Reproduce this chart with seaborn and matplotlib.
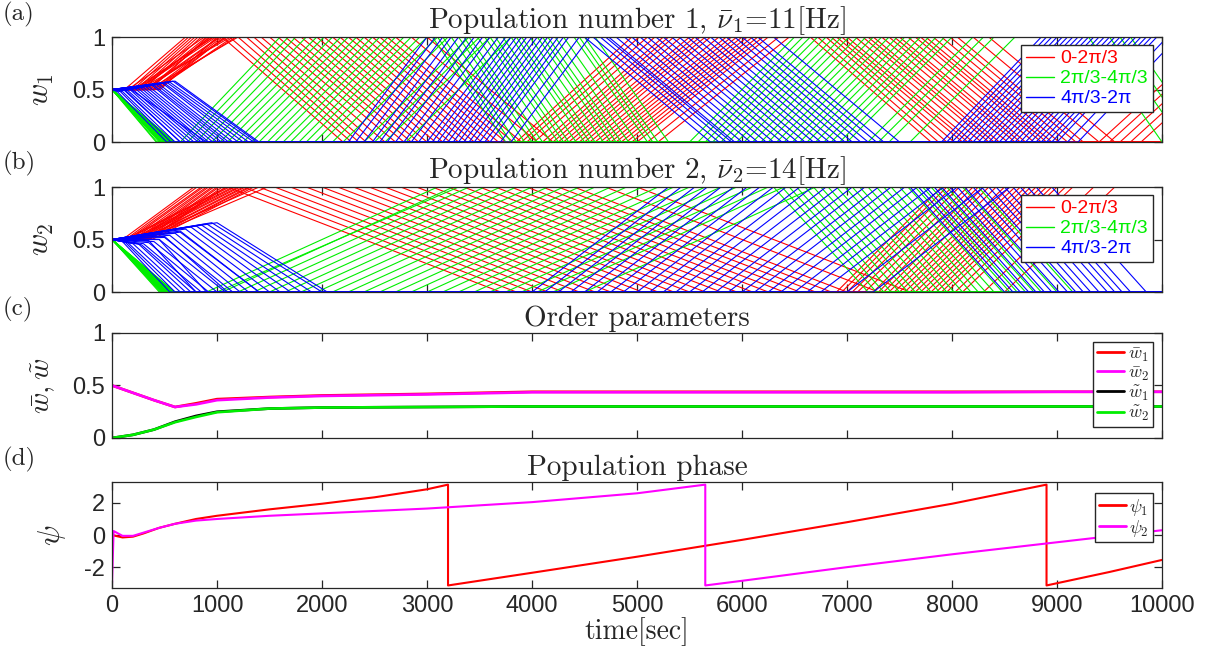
import numpy as np
import pandas as pd
import matplotlib
matplotlib.use("Agg")
import matplotlib.pyplot as plt
from matplotlib.lines import Line2D
import seaborn as sns

# ---------------- data ----------------
# Each synapse trajectory: [first_vertex, t_hit_b, t_leave_b, t_hit_other, t_leave_other, ...]
# first_vertex is either a time (weight still 0.5) or a (time, weight) pair;
# first bound b given per group (1 = up first, 0 = down first); weights start at 0.5.
red_a = [
    [120, 700, 1050, 2200, 3850, 4950, 6650, 7800],
    [170, 730, 1120, 2280, 3900, 5020, 6720, 7870],
    [200, 760, 1200, 2350, 3950, 5100, 6800, 7950, 9500, 10600],
    [230, 790, 1280, 2420, 4020, 5170, 6850, 8020],
    [260, 820, 1350, 2500, 4100, 5250, 6900, 8100],
    [290, 850, 1420, 2600, 4150, 5300, 6950, 8150, 9600, 10700],
    [150, 880, 1500, 2700, 4200, 5350, 7000, 8200],
    [360, 910, 1580, 2780, 4250, 5420, 7080, 8280],
    [330, 930, 1650, 2850, 4300, 5500, 7150, 8350],
    [200, 970, 1720, 2920, 4350, 5550, 7200, 8400],
    [240, 990, 1800, 3000, 4400, 5600, 7250, 8450, 9800, 10900],
    [310, 1020, 1870, 3080, 4450, 5650, 7330, 8530],
    [380, 1050, 1950, 3150, 4500, 5700, 7400, 8600],
    [440, 1070, 2020, 3220, 4550, 5780, 7450, 8650],
    [300, 1100, 2100, 3300, 4600, 5850, 7500, 8700],
    [260, 1130, 2170, 3380, 4650, 5900, 7580, 8780],
    [420, 1150, 2250, 3450, 4700, 5950, 7650, 8850, 9400, 10500],
    [390, 1180, 2320, 3520, 4750, 6000, 7700, 8900, 9700, 10800],
    [350, 1200, 2400, 3600, 4800, 6050, 7750, 8950],
    [330, 1030, 2480, 3680, 4850, 6100, 7820, 9020],
    [460, 1000, 2550, 3750, 4900, 6150, 7900, 9100],
    [250, 940, 2620, 3820, 4950, 6200, 7980, 9180],
    [280, 900, 2700, 3900, 5000, 6250, 8050, 9250],
    [400, 1080, 2850, 4050, 5100, 6350, 8200, 9400],
    [220, 960, 3000, 4200, 5200, 6450, 8350, 9550],
]
green_a = [
    [0, 420, 650, 1600, 3050, 3750, 5500, 6500, 9300, 10000],
    [0, 430, 720, 1680, 3100, 3800, 5580, 6580],
    [0, 450, 800, 1750, 3150, 3850, 5650, 6650],
    [0, 460, 880, 1850, 3230, 3930, 5720, 6720],
    [0, 470, 950, 1950, 3300, 4000, 5800, 6800, 9600, 10300],
    [0, 490, 1030, 2020, 3350, 4050, 5870, 6880],
    [0, 500, 1100, 2100, 3400, 4100, 5950, 6950],
    [0, 510, 1180, 2180, 3480, 4180, 6020, 7020, 9500, 10200],
    [0, 520, 1250, 2250, 3550, 4250, 6100, 7100],
    [0, 530, 1330, 2330, 3600, 4300, 6180, 7180],
    [0, 540, 1400, 2400, 3650, 4350, 6250, 7250],
    [0, 550, 1480, 2480, 3720, 4420, 6330, 7330],
    [0, 560, 1550, 2550, 3800, 4500, 6400, 7400],
    [0, 570, 1630, 2630, 3850, 4550, 6480, 7480],
    [0, 580, 1700, 2700, 3900, 4600, 6550, 7550],
    [0, 590, 1780, 2780, 3980, 4680, 6620, 7620],
    [0, 600, 1850, 2850, 4050, 4750, 6700, 7700],
    [0, 470, 1930, 2930, 4100, 4800, 6780, 7780],
    [0, 480, 2000, 3000, 4150, 4850, 6850, 7850],
    [0, 500, 2100, 3100, 4220, 4920, 6930, 7930, 9700, 10400],
    [0, 510, 2200, 3200, 4300, 5000, 7000, 8000],
    [0, 550, 2400, 3400, 4400, 5100, 7200, 8200],
    [0, 540, 2500, 3500, 4450, 5150, 7300, 8300],
    [0, 530, 2600, 3600, 4500, 5200, 7400, 8400],
    [0, 570, 2800, 3800, 4600, 5300, 7600, 8600],
]
blue_a = [
    [(50, 0.48), 520, 2250, 3000, 4500, 5700, 7900, 8850],
    [(80, 0.48), 560, 2320, 3080, 4580, 5780, 7950, 8900],
    [(100, 0.48), 600, 2400, 3150, 4650, 5850, 8000, 8950],
    [(130, 0.49), 650, 2480, 3230, 4730, 5930, 8050, 9000],
    [(150, 0.49), 700, 2550, 3300, 4800, 6000, 8100, 9050],
    [(170, 0.50), 740, 2620, 3380, 4880, 6080, 8150, 9100],
    [(200, 0.50), 780, 2700, 3450, 4950, 6150, 8200, 9150],
    [(220, 0.51), 820, 2780, 3530, 5030, 6230, 8250, 9200],
    [(250, 0.51), 850, 2850, 3600, 5100, 6300, 8300, 9250],
    [(270, 0.52), 880, 2920, 3680, 5180, 6380, 8350, 9300],
    [(300, 0.52), 920, 3000, 3750, 5250, 6450, 8400, 9350],
    [(320, 0.53), 960, 3050, 3800, 5330, 6530, 8450, 9400],
    [(350, 0.53), 1000, 3100, 3850, 5400, 6600, 8500, 9450],
    [(380, 0.54), 1040, 3150, 3900, 5480, 6680, 8550, 9500],
    [(400, 0.54), 1080, 3200, 3950, 5550, 6750, 8600, 9550],
    [(420, 0.55), 1110, 3250, 4000, 5630, 6830, 8650, 9600],
    [(450, 0.55), 1150, 3300, 4050, 5700, 6900, 8700, 9650],
    [(480, 0.56), 1200, 3350, 4100, 5780, 6980, 8750, 9700],
    [(500, 0.56), 1250, 3400, 4150, 5850, 7050, 8800, 9750],
    [(520, 0.57), 1300, 3450, 4200, 5930, 7130, 8850, 9800],
    [(550, 0.57), 1350, 3500, 4250, 6000, 7200, 8900, 9850],
    [(580, 0.58), 1380, 3550, 4300, 6080, 7280, 8950, 9900],
    [(600, 0.58), 1400, 3600, 4350, 6150, 7350, 9000, 9950],
    [(120, 0.49), 650, 3700, 4450, 6300, 7500, 9100, 10050],
    [(180, 0.50), 900, 3800, 4550, 4700, 5900, 9200, 10150],
]
red_b = [
    [100, 780, 1100, 3700, 6900, 7900],
    [130, 810, 1250, 3850, 6950, 7950],
    [150, 850, 1400, 4000, 7000, 8000],
    [170, 870, 1550, 4150, 7050, 8070],
    [200, 900, 1700, 4300, 7100, 8150],
    [230, 920, 1850, 4450, 7170, 8200],
    [250, 950, 2000, 4600, 7250, 8250],
    [270, 970, 2150, 4750, 7300, 8300],
    [300, 1000, 2300, 4900, 7350, 8350],
    [320, 1020, 2450, 5050, 7400, 8420],
    [350, 1050, 2600, 5200, 7450, 8500],
    [360, 1080, 2750, 5350, 7500, 8550],
    [120, 1100, 2900, 5500, 7550, 8600],
    [140, 1120, 3050, 5650, 7600, 8650],
    [180, 1150, 3200, 5800, 7650, 8700],
    [200, 1170, 3350, 5950, 7700, 8750],
    [220, 1200, 3500, 6100, 7750, 8800],
    [240, 1220, 3650, 6250, 7800, 8850],
    [280, 1250, 3800, 6400, 7850, 8900],
    [290, 1270, 3950, 6550, 7900, 8950],
    [330, 1300, 4100, 6700, 7950, 9000],
    [340, 1320, 4250, 6850, 8030, 9080],
    [380, 1350, 4400, 7000, 8100, 9150],
    [260, 1400, 4700, 7300, 8300, 9350],
    [310, 1480, 5000, 7600, 8500, 9550],
]
green_b = [
    [0, 450, 900, 3100, 6300, 7200],
    [0, 460, 1050, 3250, 6380, 7280],
    [0, 480, 1200, 3400, 6450, 7350],
    [0, 490, 1350, 3550, 6520, 7420],
    [0, 500, 1500, 3700, 6600, 7500],
    [0, 510, 1650, 3850, 6680, 7580],
    [0, 520, 1800, 4000, 6750, 7650],
    [0, 530, 1950, 4150, 6820, 7720],
    [0, 540, 2100, 4300, 6900, 7800],
    [0, 550, 2250, 4450, 6980, 7880],
    [0, 560, 2400, 4600, 7050, 7950],
    [0, 570, 2550, 4750, 7120, 8020],
    [0, 580, 2700, 4900, 7200, 8100],
    [0, 590, 2850, 5050, 7280, 8180],
    [0, 600, 3000, 5200, 7350, 8250],
    [0, 480, 3150, 5350, 7420, 8320],
    [0, 470, 3300, 5500, 7500, 8400],
    [0, 500, 3450, 5650, 7580, 8480],
    [0, 490, 3600, 5800, 7650, 8550],
    [0, 520, 3750, 5950, 7720, 8620],
    [0, 510, 3900, 6100, 7800, 8700],
    [0, 540, 4050, 6250, 7880, 8780],
    [0, 530, 4200, 6400, 7950, 8850],
    [0, 550, 4500, 6700, 8100, 9000],
    [0, 570, 1000, 3300, 8250, 9150],
]
blue_b = [
    [(100, 0.48), 550, 4000, 5300, 7600, 8500],
    [(120, 0.48), 600, 4120, 5420, 7680, 8580],
    [(150, 0.47), 650, 4250, 5550, 7750, 8650],
    [(200, 0.46), 700, 4370, 5670, 7830, 8730],
    [(250, 0.46), 750, 4500, 5800, 7900, 8800],
    [(280, 0.45), 800, 4620, 5920, 7980, 8880],
    [(300, 0.46), 850, 4750, 6050, 8050, 8950],
    [(350, 0.47), 920, 4870, 6170, 8120, 9020],
    [(400, 0.48), 1000, 5000, 6300, 8200, 9100],
    [(450, 0.50), 1080, 5120, 6420, 8280, 9180],
    [(500, 0.52), 1150, 5250, 6550, 8350, 9250],
    [(550, 0.54), 1220, 5370, 6670, 8420, 9320],
    [(600, 0.56), 1300, 5500, 6800, 8500, 9400],
    [(650, 0.58), 1400, 5620, 6920, 8580, 9480],
    [(700, 0.60), 1500, 5750, 7050, 8650, 9550],
    [(750, 0.62), 1600, 5870, 7170, 8720, 9620],
    [(800, 0.63), 1700, 6000, 7300, 8800, 9700],
    [(850, 0.64), 1800, 6120, 7420],
    [(900, 0.65), 1900, 6250, 7550, 8950, 9850],
    [(950, 0.66), 2000, 6370, 7670],
    [(1000, 0.66), 2050, 6500, 7800],
    [(500, 0.53), 1100, 6620, 7920],
    [(650, 0.57), 1400, 6750, 8050],
    [(450, 0.50), 900, 7000, 8300],
    [(350, 0.49), 800, 7250, 8550],
]

group_labels = ["0-2\u03c0/3", "2\u03c0/3-4\u03c0/3", "4\u03c0/3-2\u03c0"]
group_colors = ["#ff0000", "#00ee00", "#0000ff"]

# order parameters (panel c)
t_ord = [0, 200, 400, 600, 800, 1000, 1500, 2000, 3000, 4000, 5000, 6000, 7000, 8000, 9000, 10000]
wbar1 = [0.50, 0.43, 0.36, 0.295, 0.33, 0.37, 0.39, 0.405, 0.42, 0.44, 0.44, 0.44, 0.44, 0.44, 0.44, 0.44]
wbar2 = [0.50, 0.43, 0.36, 0.295, 0.32, 0.36, 0.385, 0.40, 0.415, 0.435, 0.435, 0.435, 0.435, 0.435, 0.44, 0.44]
wtil1 = [0.00, 0.03, 0.08, 0.155, 0.21, 0.25, 0.28, 0.29, 0.295, 0.30, 0.30, 0.30, 0.30, 0.30, 0.30, 0.30]
wtil2 = [0.00, 0.03, 0.08, 0.150, 0.20, 0.245, 0.28, 0.29, 0.295, 0.30, 0.30, 0.30, 0.30, 0.30, 0.30, 0.30]

# population phases (panel d)
t_psi1 = [0, 100, 200, 300, 450, 600, 800, 1000, 1500, 2000, 2500, 3000, 3200, 3200,
          4000, 5000, 6000, 7000, 8000, 8900, 8900, 9500, 10000]
psi1 = [0.0, -0.15, -0.1, 0.1, 0.45, 0.7, 1.0, 1.2, 1.6, 1.95, 2.35, 2.85, 3.14, -3.14,
        -2.35, -1.35, -0.3, 0.8, 1.95, 3.14, -3.14, -2.3, -1.55]
t_psi2 = [0, 15, 100, 200, 300, 450, 600, 800, 1000, 1500, 2000, 3000, 4000, 5000, 5650, 5650,
          6000, 7000, 8000, 9000, 10000]
psi2 = [-3.0, 0.25, -0.05, -0.05, 0.15, 0.45, 0.7, 0.9, 1.0, 1.2, 1.35, 1.65, 2.05, 2.6, 3.14, -3.14,
        -2.85, -2.0, -1.2, -0.45, 0.3]

x_ticks = [0, 1000, 2000, 3000, 4000, 5000, 6000, 7000, 8000, 9000, 10000]


def build_frame(groups_and_first):
    rows = []
    uid = 0
    for gi, (lines, first) in enumerate(groups_and_first):
        for times in lines:
            v0 = times[0]
            if isinstance(v0, tuple):
                pts = [(0.0, 0.5), v0]
            else:
                pts = [(0.0, 0.5), (v0, 0.5)]
            for i, t in enumerate(times[1:]):
                val = first if (i // 2) % 2 == 0 else 1 - first
                pts.append((t, val))
            if len(times[1:]) % 2 == 1:
                pts.append((max(10000, pts[-1][0]), pts[-1][1]))
            for k, (t, w) in enumerate(pts):
                rows.append({"t": t, "w": w, "unit": uid, "k": k, "group": group_labels[gi]})
            uid += 1
    return pd.DataFrame(rows)


df_a = build_frame([(red_a, 1), (green_a, 0), (blue_a, 0)])
df_b = build_frame([(red_b, 1), (green_b, 0), (blue_b, 0)])

# ---------------- style ----------------
sns.set_theme(style="ticks")
plt.rcParams["font.family"] = ["Liberation Sans", "DejaVu Sans"]
plt.rcParams["mathtext.fontset"] = "cm"
plt.rcParams["axes.edgecolor"] = "#262626"
plt.rcParams["axes.linewidth"] = 0.9
plt.rcParams["axes.unicode_minus"] = False

CM = "cmr10"
fig = plt.figure(figsize=(12.15, 6.59), dpi=100)
L, W = 0.0922, 0.8642
H = 0.1593
ax_a = fig.add_axes([L, 0.7845, W, H])
ax_b = fig.add_axes([L, 0.5569, W, H])
ax_c = fig.add_axes([L, 0.3354, W, H])
ax_d = fig.add_axes([L, 0.1077, W, 0.1608])

pal = dict(zip(group_labels, group_colors))
for ax, df in [(ax_a, df_a), (ax_b, df_b)]:
    sns.lineplot(data=df, x="t", y="w", hue="group", units="unit", estimator=None,
                 palette=pal, hue_order=group_labels, lw=0.8, sort=False, legend=False, ax=ax)
    ax.set_ylim(0, 1)
    ax.set_yticks([0, 0.5, 1])
    ax.set_yticklabels(["0", "0.5", "1"])
    handles = [Line2D([0], [0], color=c, lw=1) for c in group_colors]
    leg = ax.legend(handles, group_labels, loc="upper right", bbox_to_anchor=(0.991, 0.924),
                    borderaxespad=0, frameon=True, fancybox=False, framealpha=1,
                    edgecolor="#262626", fontsize=14, handlelength=1.45, labelspacing=0.12,
                    borderpad=0.25, handletextpad=0.3)
    leg.get_frame().set_linewidth(1.0)
    for txt, c in zip(leg.get_texts(), group_colors):
        txt.set_color(c)

# panel c
for y, c in [(wbar1, "#ff0000"), (wbar2, "#ff00ff"), (wtil1, "#000000"), (wtil2, "#00ee00")]:
    sns.lineplot(x=t_ord, y=y, color=c, lw=1.9, ax=ax_c, sort=False, estimator=None)
ax_c.set_ylim(0, 1)
ax_c.set_yticks([0, 0.5, 1])
ax_c.set_yticklabels(["0", "0.5", "1"])
hc = [Line2D([0], [0], color=c, lw=2) for c in ["#ff0000", "#ff00ff", "#000000", "#00ee00"]]
leg = ax_c.legend(hc, [r"$\bar{w}_1$", r"$\bar{w}_2$", r"$\tilde{w}_1$", r"$\tilde{w}_2$"],
                  loc="upper right", bbox_to_anchor=(0.991, 0.914), borderaxespad=0,
                  fancybox=False, framealpha=1, edgecolor="#262626", fontsize=13,
                  handlelength=1.5, labelspacing=0.05, borderpad=0.2, handletextpad=0.2)
leg.get_frame().set_linewidth(1.0)

# panel d
sns.lineplot(x=t_psi1, y=psi1, color="#ff0000", lw=1.5, ax=ax_d, sort=False, estimator=None)
sns.lineplot(x=t_psi2, y=psi2, color="#ff00ff", lw=1.5, ax=ax_d, sort=False, estimator=None)
ax_d.set_ylim(-3.3, 3.3)
ax_d.set_yticks([-2, 0, 2])
ax_d.set_yticklabels(["-2", "0", "2"])
hd = [Line2D([0], [0], color=c, lw=2) for c in ["#ff0000", "#ff00ff"]]
leg = ax_d.legend(hd, [r"$\psi_1$", r"$\psi_2$"], loc="upper right", bbox_to_anchor=(0.991, 0.895),
                  borderaxespad=0, fancybox=False, framealpha=1, edgecolor="#262626", fontsize=13,
                  handlelength=1.5, labelspacing=0.0, borderpad=0.2, handletextpad=0.2)
leg.get_frame().set_linewidth(1.0)

for ax in [ax_a, ax_b, ax_c, ax_d]:
    ax.set_xlim(0, 10000)
    ax.set_xticks(x_ticks)
    ax.tick_params(direction="in", top=True, right=True, length=6, width=0.9,
                   color="#262626", labelsize=17, labelcolor="#262626", pad=5)
    ax.set_xlabel("")
    ax.set_ylabel("")
    for s in ax.spines.values():
        s.set_visible(True)
        s.set_color("#262626")
        s.set_linewidth(0.9)
for ax in [ax_a, ax_b, ax_c]:
    ax.set_xticklabels([])
ax_d.set_xticklabels([str(v) for v in x_ticks])

# titles, labels
ax_a.set_title(r"Population number 1, $\bar{\nu}_1$=11[Hz]", fontfamily=CM, fontsize=21, pad=5)
ax_b.set_title(r"Population number 2, $\bar{\nu}_2$=14[Hz]", fontfamily=CM, fontsize=21, pad=5)
ax_c.set_title("Order parameters", fontfamily=CM, fontsize=21, pad=5)
ax_d.set_title("Population phase", fontfamily=CM, fontsize=21, pad=5)
ax_a.set_ylabel(r"$w_1$", fontsize=22, labelpad=12)
ax_b.set_ylabel(r"$w_2$", fontsize=22, labelpad=12)
ax_c.set_ylabel(r"$\bar{w},\tilde{w}$", fontsize=21, labelpad=10)
ax_d.set_ylabel(r"$\psi$", fontsize=22, labelpad=12)
ax_d.set_xlabel("time[sec]", fontfamily=CM, fontsize=20, labelpad=0)

for lab, y in [("(a)", 0.978), ("(b)", 0.752), ("(c)", 0.531), ("(d)", 0.303)]:
    fig.text(0.002, y, lab, fontfamily=CM, fontsize=18, ha="left", va="center")

fig.savefig("out.png", dpi=100, facecolor="white")
